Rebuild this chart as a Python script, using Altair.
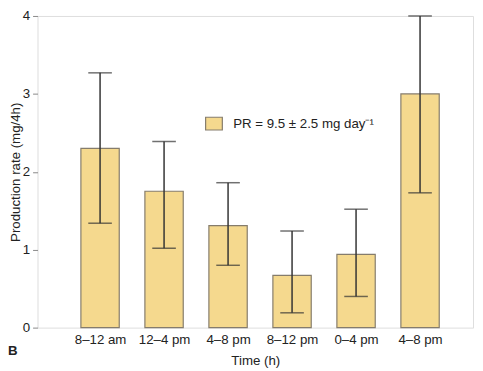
import altair as alt
import pandas as pd

periods = ["8–12 am", "12–4 pm", "4–8 pm", "8–12 pm", "0–4 pm", "4–8 pm"]
slot = [1, 2, 3, 4, 5, 6]
rate = [2.30, 1.75, 1.31, 0.67, 0.94, 3.00]
err_low = [1.34, 1.02, 0.80, 0.19, 0.40, 1.73]
err_high = [3.27, 2.39, 1.86, 1.24, 1.52, 4.00]
y_ticks = [0, 1, 2, 3, 4]
legend_label = "PR = 9.5 ± 2.5 mg day⁻¹"
panel_letter = ["B"]

df = pd.DataFrame({
    "slot": slot,
    "period": periods,
    "rate": rate,
    "lo": err_low,
    "hi": err_high,
    "series": [legend_label] * len(slot),
})

label_expr = "[" + ",".join("'" + p + "'" for p in periods) + "][datum.value - 1]"

FONT = "Liberation Sans"
FS = 13.5
FILL = "#F5D98E"
EDGE = "#857c6c"
ERR = "#333333"

x_enc = alt.X(
    "slot:Q",
    scale=alt.Scale(domain=[0.099, 6.751], nice=False, zero=False),
    axis=alt.Axis(
        values=slot, labelExpr=label_expr, ticks=False, domain=False, grid=False,
        title="Time (h)", labelPadding=5, titlePadding=8,
        labelFontSize=FS, titleFontSize=FS, titleFontWeight="normal",
        labelColor="#222", titleColor="#222", labelFont=FONT, titleFont=FONT,
    ),
)
y_scale = alt.Scale(domain=[0, 4], nice=False, zero=True)

base = alt.Chart(df)

bars = base.mark_bar(size=39, stroke=EDGE, strokeWidth=1.2).encode(
    x=x_enc,
    y=alt.Y(
        "rate:Q",
        scale=y_scale,
        axis=alt.Axis(
            values=y_ticks, format="d", tickSize=5, tickColor="#888", tickWidth=1, domain=False, grid=False,
            labelPadding=3, title="Production rate (mg/4h)", titlePadding=0,
            labelFontSize=FS, titleFontSize=FS, titleFontWeight="normal",
            labelColor="#222", titleColor="#222", labelFont=FONT, titleFont=FONT,
        ),
    ),
    color=alt.Color(
        "series:N",
        scale=alt.Scale(range=[FILL]),
        legend=alt.Legend(
            title=None, orient="none", legendX=170, legendY=100, padding=0,
            symbolType="M-1,-0.76L1,-0.76L1,0.76L-1,0.76Z", symbolSize=289,
            symbolFillColor=FILL, symbolStrokeColor=EDGE, symbolStrokeWidth=1.2,
            symbolOpacity=1, labelFontSize=FS, labelFont=FONT, labelColor="#222",
            labelOffset=10, labelLimit=300,
        ),
    ),
)

rules = base.mark_rule(color=ERR, strokeWidth=1.5).encode(
    x="slot:Q", y=alt.Y("lo:Q", scale=y_scale), y2="hi:Q"
)
caps_lo = base.mark_tick(color=ERR, size=24, thickness=1.5, orient="horizontal").encode(
    x="slot:Q", y=alt.Y("lo:Q", scale=y_scale)
)
caps_hi = base.mark_tick(color=ERR, size=24, thickness=1.5, orient="horizontal").encode(
    x="slot:Q", y=alt.Y("hi:Q", scale=y_scale)
)

letter = alt.Chart(pd.DataFrame({"t": panel_letter})).mark_text(
    fontWeight="bold", fontSize=FS, font=FONT, align="left", baseline="alphabetic", color="#222"
).encode(x=alt.value(-30), y=alt.value(345), text="t:N")

chart = alt.layer(bars, rules, caps_lo, caps_hi, letter).properties(
    width=443,
    height=317,
    autosize=alt.AutoSizeParams(type="none"),
    padding={"left": 30, "top": 5, "right": 2, "bottom": 40},
).configure_view(stroke="#8c8c8c", strokeWidth=1.2).configure(font=FONT)

chart.save("out.html", embed_options={"renderer": "svg", "actions": False})
